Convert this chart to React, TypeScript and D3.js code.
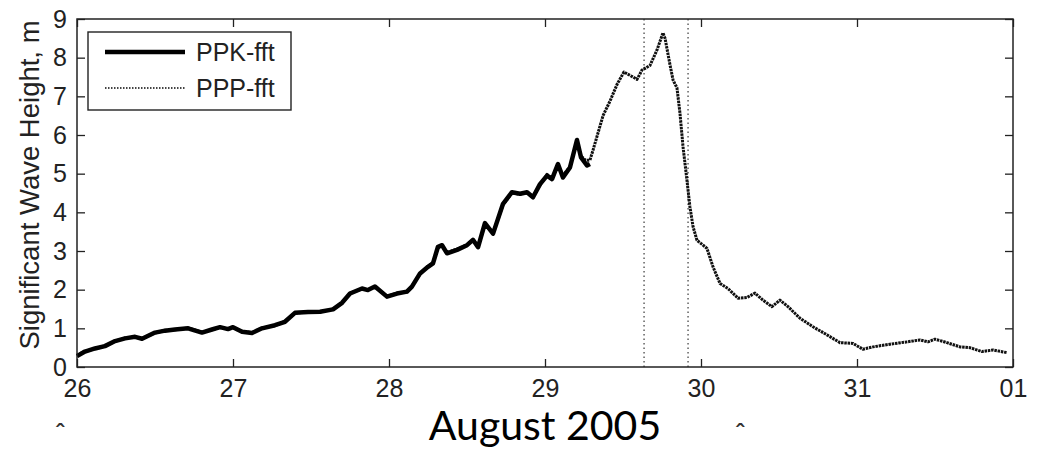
import React, { useEffect, useRef } from 'react';
import * as d3 from 'd3';

// days of August 2005 (fractional); 32 = 01 September
const ppkDays = [26.0, 26.051, 26.115, 26.179, 26.244, 26.308, 26.372, 26.417, 26.5, 26.564, 26.628, 26.712,
  26.801, 26.865, 26.917, 26.968, 27.0, 27.058, 27.122, 27.186, 27.269, 27.333, 27.397, 27.481, 27.558,
  27.641, 27.699, 27.75, 27.827, 27.865, 27.91, 27.987, 28.051, 28.115, 28.147, 28.199, 28.25, 28.282,
  28.314, 28.34, 28.372, 28.436, 28.5, 28.538, 28.571, 28.615, 28.667, 28.731, 28.788, 28.84, 28.885,
  28.923, 28.968, 29.013, 29.045, 29.083, 29.115, 29.16, 29.205, 29.231, 29.269, 29.288];
const ppkHs = [0.28, 0.4, 0.48, 0.54, 0.67, 0.74, 0.78, 0.73, 0.89, 0.94, 0.97, 1.0,
  0.89, 0.97, 1.03, 0.98, 1.03, 0.91, 0.88, 1.0, 1.08, 1.17, 1.4, 1.42, 1.43,
  1.49, 1.66, 1.9, 2.03, 1.99, 2.08, 1.82, 1.9, 1.95, 2.08, 2.42, 2.59, 2.68,
  3.11, 3.15, 2.94, 3.03, 3.15, 3.29, 3.1, 3.72, 3.45, 4.22, 4.52, 4.48, 4.52,
  4.39, 4.73, 4.95, 4.86, 5.25, 4.9, 5.16, 5.87, 5.42, 5.21, 5.25];

const pppDays = [26.0, 26.051, 26.115, 26.179, 26.244, 26.308, 26.372, 26.417, 26.5, 26.564, 26.628, 26.712,
  26.801, 26.865, 26.917, 26.968, 27.0, 27.058, 27.122, 27.186, 27.269, 27.333, 27.397, 27.481, 27.558,
  27.641, 27.699, 27.75, 27.827, 27.865, 27.91, 27.987, 28.051, 28.115, 28.147, 28.199, 28.25, 28.282,
  28.314, 28.34, 28.372, 28.436, 28.5, 28.538, 28.571, 28.615, 28.667, 28.731, 28.788, 28.84, 28.885,
  28.923, 28.968, 29.013, 29.045, 29.083, 29.115, 29.16, 29.205, 29.231, 29.26, 29.288, 29.308, 29.372,
  29.417, 29.462, 29.506, 29.59, 29.622, 29.673, 29.718, 29.756, 29.769, 29.801, 29.821, 29.846, 29.865,
  29.885, 29.91, 29.929, 29.949, 29.974, 30.038, 30.077, 30.122, 30.173, 30.237, 30.295, 30.346, 30.397,
  30.455, 30.506, 30.558, 30.635, 30.718, 30.808, 30.891, 30.974, 31.038, 31.103, 31.212, 31.321, 31.404,
  31.455, 31.5, 31.577, 31.66, 31.724, 31.801, 31.872, 31.962];
const pppHs = [0.3, 0.41, 0.47, 0.55, 0.66, 0.75, 0.77, 0.74, 0.88, 0.95, 0.96, 1.01,
  0.9, 0.96, 1.02, 0.99, 1.02, 0.92, 0.89, 1.01, 1.07, 1.18, 1.39, 1.43, 1.42,
  1.5, 1.65, 1.91, 2.02, 2.0, 2.07, 1.83, 1.91, 1.94, 2.09, 2.41, 2.6, 2.7,
  3.08, 3.13, 2.96, 3.05, 3.16, 3.27, 3.12, 3.68, 3.47, 4.2, 4.5, 4.47, 4.5,
  4.42, 4.7, 4.98, 4.88, 5.22, 4.95, 5.18, 5.82, 5.45, 5.35, 5.35, 5.61, 6.5,
  6.88, 7.31, 7.63, 7.44, 7.68, 7.8, 8.2, 8.64, 8.51, 7.82, 7.42, 7.22, 6.57,
  5.69, 4.83, 4.14, 3.63, 3.28, 3.07, 2.59, 2.16, 2.03, 1.78, 1.8, 1.91, 1.73,
  1.56, 1.73, 1.56, 1.26, 1.04, 0.83, 0.63, 0.61, 0.46, 0.52, 0.59, 0.65, 0.7,
  0.65, 0.72, 0.63, 0.52, 0.5, 0.4, 0.44, 0.37];

const dayTicks = [26, 27, 28, 29, 30, 31, 32];
const dayLabels = ['26', '27', '28', '29', '30', '31', '01'];
const hsTicks = [0, 1, 2, 3, 4, 5, 6, 7, 8, 9];
const markerDays = [29.635, 29.917];
const legendLabels = ['PPK-fft', 'PPP-fft'];

const width = 1040;
const height = 451;
const marginTop = 19;
const marginRight = 27;
const marginBottom = 84;
const marginLeft = 77;
const axisFont = '"Liberation Sans", Arial, sans-serif';
const ink = '#222';

function App() {
  const ref = useRef<SVGSVGElement>(null);

  useEffect(() => {
    const svg = d3.select(ref.current);
    svg.selectAll('*').remove();

    const x = d3.scaleLinear().domain([26, 32]).range([marginLeft, width - marginRight]);
    const y = d3.scaleLinear().domain([0, 9]).range([height - marginBottom, marginTop]);
    const x0 = marginLeft, x1 = width - marginRight, y0 = height - marginBottom, y1 = marginTop;

    const styleAxis = (g) => {
      g.select('.domain').remove();
      g.selectAll('.tick line').attr('stroke', ink).attr('stroke-width', 1.3);
      g.selectAll('text').attr('font-size', 25).attr('font-family', axisFont).attr('fill', ink);
    };

    // ticks (inside, matlab style)
    svg.append('g').attr('transform', `translate(${x0},0)`)
      .call(d3.axisLeft(y).tickValues(hsTicks).tickSizeInner(-8).tickSizeOuter(0).tickPadding(10).tickFormat(d3.format('d')))
      .call(styleAxis);
    svg.append('g').attr('transform', `translate(${x1},0)`)
      .call(d3.axisRight(y).tickValues(hsTicks).tickSizeInner(-8).tickSizeOuter(0).tickFormat(() => ''))
      .call(styleAxis);
    svg.append('g').attr('transform', `translate(0,${y0})`)
      .call(d3.axisBottom(x).tickValues(dayTicks).tickSizeInner(-8).tickSizeOuter(0).tickPadding(12)
        .tickFormat((d, i) => dayLabels[i]))
      .call(styleAxis);
    svg.append('g').attr('transform', `translate(0,${y1})`)
      .call(d3.axisTop(x).tickValues(dayTicks).tickSizeInner(-8).tickSizeOuter(0).tickFormat(() => ''))
      .call(styleAxis);

    // event markers
    svg.append('g').selectAll('line').data(markerDays).join('line')
      .attr('x1', d => x(d)).attr('x2', d => x(d))
      .attr('y1', y1).attr('y2', y0)
      .attr('stroke', '#555').attr('stroke-width', 1.4).attr('stroke-dasharray', '1.5 3');

    const ppk = ppkDays.map((d, i) => [d, ppkHs[i]]);
    const ppp = pppDays.map((d, i) => [d, pppHs[i]]);
    const line = d3.line().x(d => x(d[0])).y(d => y(d[1]));

    svg.append('path').attr('d', line(ppp)).attr('fill', 'none')
      .attr('stroke', '#111').attr('stroke-width', 3).attr('stroke-dasharray', '2.5 0.8')
      .attr('stroke-linejoin', 'round');
    svg.append('path').attr('d', line(ppk)).attr('fill', 'none')
      .attr('stroke', '#000').attr('stroke-width', 4.5).attr('stroke-linejoin', 'round');

    // frame
    svg.append('rect').attr('x', x0).attr('y', y1).attr('width', x1 - x0).attr('height', y0 - y1)
      .attr('fill', 'none').attr('stroke', ink).attr('stroke-width', 1.5);

    // y title
    svg.append('text')
      .attr('transform', `translate(39,${(y0 + y1) / 2 - 8}) rotate(-90)`)
      .attr('text-anchor', 'middle').attr('font-size', 27.5).attr('font-family', axisFont).attr('fill', ink)
      .text('Significant Wave Height, m');

    // legend
    const legend = svg.append('g').attr('transform', 'translate(88,32)');
    legend.append('rect').attr('width', 203).attr('height', 78)
      .attr('fill', '#fff').attr('stroke', ink).attr('stroke-width', 1.4);
    legend.selectAll('line.swatch').data(legendLabels).join('line')
      .attr('class', 'swatch')
      .attr('x1', 17).attr('x2', 97)
      .attr('y1', (d, i) => 20 + i * 36).attr('y2', (d, i) => 20 + i * 36)
      .attr('stroke', (d, i) => i === 0 ? '#000' : '#444')
      .attr('stroke-width', (d, i) => i === 0 ? 4.5 : 2)
      .attr('stroke-dasharray', (d, i) => i === 0 ? null : '1.5 1.5');
    legend.selectAll('text').data(legendLabels).join('text')
      .attr('x', 108).attr('y', (d, i) => 29 + i * 36)
      .attr('font-size', 25).attr('font-family', axisFont).attr('fill', ink)
      .text(d => d);

    // caption
    svg.append('text').attr('x', 545).attr('y', 440).attr('text-anchor', 'middle')
      .attr('font-size', 41).attr('font-family', 'Lato, "Open Sans", sans-serif').attr('fill', '#000')
      .text('August 2005');
    svg.append('g').selectAll('text').data([60, 740]).join('text')
      .attr('x', d => d).attr('y', 441).attr('text-anchor', 'middle')
      .attr('font-size', 24).attr('font-weight', 'bold').attr('font-family', axisFont).attr('fill', '#333')
      .text('ˆ');
  }, []);

  return (
    <div>
      <svg ref={ref} width={width} height={height}
        style={{ position: 'absolute', left: 0, top: 0, background: '#fff' }} />
    </div>
  );
}

export default App;
